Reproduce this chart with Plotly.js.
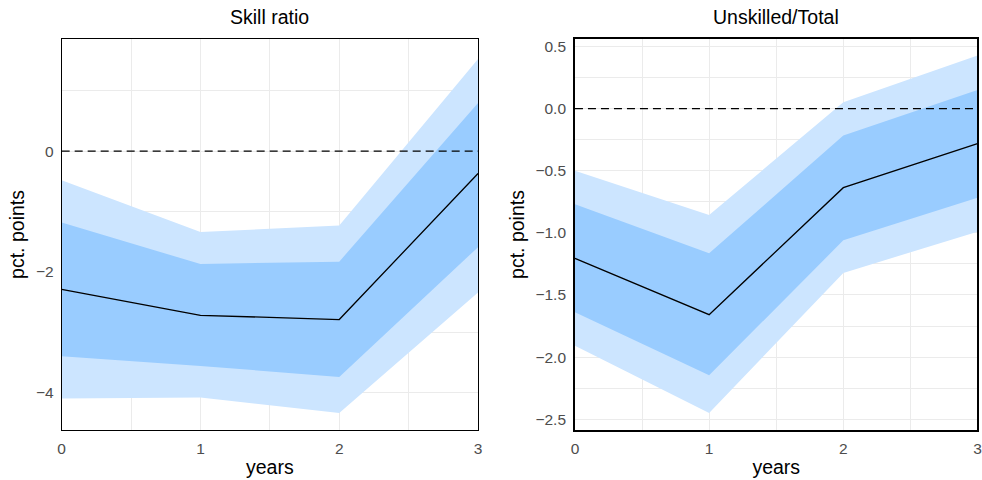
<!DOCTYPE html>
<html>
<head>
<meta charset="utf-8">
<script src="https://cdn.plot.ly/plotly-3.0.1.min.js"></script>
<style>html,body{margin:0;padding:0;background:#fff}#chart{width:982px;height:480px}</style>
</head>
<body>
<div id="chart"></div>
<script>
const years = [0, 1, 2, 3];

// Skill ratio
const skillCentral = [-2.29, -2.72, -2.79, -0.37];
const skillInnerUpper = [-1.18, -1.87, -1.83, 0.80];
const skillInnerLower = [-3.40, -3.56, -3.74, -1.59];
const skillOuterUpper = [-0.48, -1.34, -1.23, 1.53];
const skillOuterLower = [-4.10, -4.08, -4.34, -2.34];

// Unskilled/Total
const unskCentral = [-1.205, -1.659, -0.636, -0.282];
const unskInnerUpper = [-0.77, -1.165, -0.217, 0.150];
const unskInnerLower = [-1.64, -2.147, -1.06, -0.717];
const unskOuterUpper = [-0.50, -0.856, 0.051, 0.427];
const unskOuterLower = [-1.908, -2.45, -1.323, -0.99];

const panelTitles = ["Skill ratio", "Unskilled/Total"];
const xTitle = "years";
const yTitle = "pct. points";

const outerCol = "rgb(204,229,255)";
const innerCol = "rgb(153,204,255)";

function bandTraces(xa, ya, oLo, oUp, iLo, iUp, mid) {
  const base = {x: years, xaxis: xa, yaxis: ya, mode: "lines", showlegend: false, hoverinfo: "x+y"};
  return [
    Object.assign({}, base, {y: oLo, line: {width: 0, color: outerCol}}),
    Object.assign({}, base, {y: oUp, line: {width: 0, color: outerCol}, fill: "tonexty", fillcolor: outerCol}),
    Object.assign({}, base, {y: iLo, line: {width: 0, color: innerCol}}),
    Object.assign({}, base, {y: iUp, line: {width: 0, color: innerCol}, fill: "tonexty", fillcolor: innerCol}),
    Object.assign({}, base, {y: mid, line: {width: 1.3, color: "#000"}})
  ];
}

const data = [].concat(
  bandTraces("x", "y", skillOuterLower, skillOuterUpper, skillInnerLower, skillInnerUpper, skillCentral),
  bandTraces("x2", "y2", unskOuterLower, unskOuterUpper, unskInnerLower, unskInnerUpper, unskCentral)
);

const font = "Liberation Sans, Arial, sans-serif";
const gridCol = "#ebebeb";

function xAxis(domain, anchor, lw) {
  return {
    domain: domain, anchor: anchor, range: [0, 3], dtick: 1, tick0: 0,
    showgrid: true, gridcolor: gridCol, gridwidth: 1,
    minor: {dtick: 0.5, showgrid: true, gridcolor: gridCol, gridwidth: 1},
    showline: true, linecolor: "#000", linewidth: lw, mirror: true,
    zeroline: false, ticks: "", ticklabelstandoff: 4,
    tickfont: {family: font, size: 15.5, color: "#4d4d4d"},
    title: {text: xTitle, font: {family: font, size: 19.5, color: "#000"}, standoff: 4}
  };
}
function yAxis(domain, anchor, range, dtick, minorDtick, fmt, lw) {
  return {
    domain: domain, anchor: anchor, range: range, dtick: dtick, tick0: 0,
    showgrid: true, gridcolor: gridCol, gridwidth: 1,
    minor: {dtick: minorDtick, showgrid: true, gridcolor: gridCol, gridwidth: 1},
    showline: true, linecolor: "#000", linewidth: lw, mirror: true,
    zeroline: false, ticks: "", tickformat: fmt, ticklabelstandoff: 4,
    tickfont: {family: font, size: 15.5, color: "#4d4d4d"},
    title: {text: yTitle, font: {family: font, size: 19.5, color: "#000"}, standoff: 6}
  };
}

const yDom = [0.1042, 0.9188];
const layout = {
  width: 982, height: 480,
  margin: {l: 0, r: 0, t: 0, b: 0},
  paper_bgcolor: "#fff", plot_bgcolor: "#fff",
  font: {family: font},
  xaxis: xAxis([0.0628, 0.4868], "y", 1),
  yaxis: yAxis(yDom, "x", [-4.62, 1.86], 2, 1, "", 1),
  xaxis2: xAxis([0.5855, 0.9954], "y2", 1.6),
  yaxis2: yAxis(yDom, "x2", [-2.587, 0.561], 0.5, 0.25, ".1f", 1.6),
  shapes: [
    {type: "line", xref: "x domain", yref: "y", x0: 0, x1: 1, y0: 0, y1: 0, line: {color: "#000", width: 1.3, dash: "8px,5px"}},
    {type: "line", xref: "x2 domain", yref: "y2", x0: 0, x1: 1, y0: 0, y1: 0, line: {color: "#000", width: 1.3, dash: "8px,5px"}}
  ],
  annotations: [
    {text: panelTitles[0], xref: "x domain", yref: "paper", x: 0.5, y: 1 - 17/480, xanchor: "center", yanchor: "middle", showarrow: false, font: {family: font, size: 19.5, color: "#000"}},
    {text: panelTitles[1], xref: "x2 domain", yref: "paper", x: 0.5, y: 1 - 17/480, xanchor: "center", yanchor: "middle", showarrow: false, font: {family: font, size: 19.5, color: "#000"}}
  ]
};

Plotly.newPlot("chart", data, layout, {displayModeBar: false});
</script>
</body>
</html>
